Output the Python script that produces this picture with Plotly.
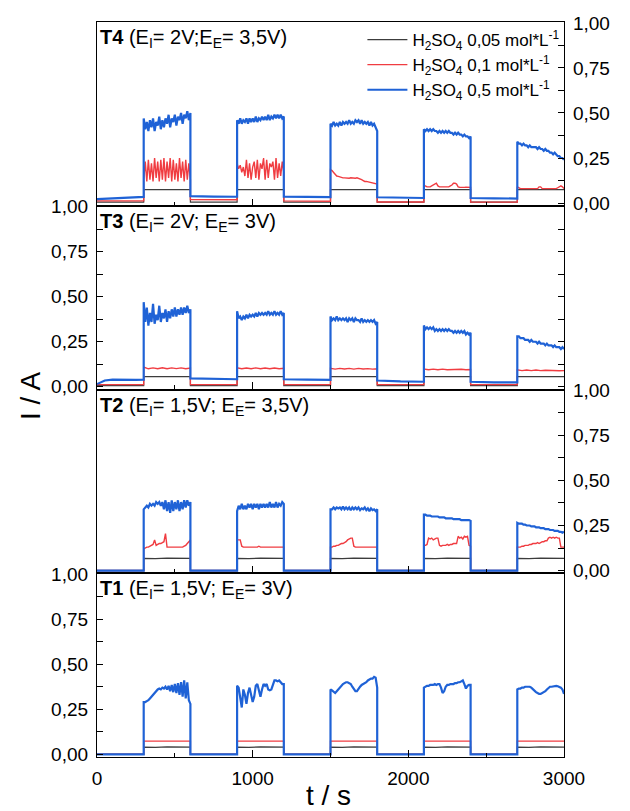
import numpy as np
import plotly.graph_objects as go
from plotly.subplots import make_subplots

# segment edges (s): off/on alternating, 10 segments
T_EDGES = [0, 300, 600, 900, 1200, 1500, 1800, 2100, 2400, 2700, 3000]
X_TICKS = [0, 1000, 2000, 3000]
Y_TICKS = [0, 0.25, 0.5, 0.75, 1.0]

SERIES_NAMES = ["H<sub>2</sub>SO<sub>4</sub> 0,05 mol*L<sup>-1</sup>",
                "H<sub>2</sub>SO<sub>4</sub> 0,1 mol*L<sup>-1</sup>",
                "H<sub>2</sub>SO<sub>4</sub> 0,5 mol*L<sup>-1</sup>"]
PANEL_LABELS = ["<b>T4</b> (E<sub>I</sub>= 2V;E<sub>E</sub>= 3,5V)",
                "<b>T3</b> (E<sub>I</sub>= 2V; E<sub>E</sub>= 3V)",
                "<b>T2</b> (E<sub>I</sub>= 1,5V; E<sub>E</sub>= 3,5V)",
                "<b>T1</b> (E<sub>I</sub>= 1,5V; E<sub>E</sub>= 3V)"]

# ---------------- T4 ----------------
T4_BLACK = [[0.005, 0.005], [0.075, 0.074, 0.076, 0.075], [0.005, 0.005], [0.075, 0.074, 0.076, 0.075],
            [0.005, 0.005], [0.075, 0.074, 0.076, 0.075], [0.005, 0.005], [0.075, 0.074, 0.076, 0.075],
            [0.005, 0.005], [0.075, 0.074, 0.076, 0.075]]
T4_RED = [
    [0.012, 0.012],
    [0.13, 0.23, 0.12, 0.24, 0.13, 0.22, 0.12, 0.25, 0.14, 0.23, 0.12, 0.24, 0.13, 0.25, 0.12, 0.23,
     0.14, 0.25, 0.12, 0.24, 0.13, 0.22, 0.12, 0.25, 0.14, 0.23, 0.12, 0.24, 0.13, 0.22, 0.13],
    [0.02, 0.018],
    [0.22, 0.19, 0.21, 0.17, 0.20, 0.15, 0.24, 0.14, 0.22, 0.13, 0.20, 0.23, 0.14, 0.24, 0.13, 0.22,
     0.19, 0.25, 0.13, 0.24, 0.14, 0.22, 0.20, 0.23, 0.13, 0.25, 0.14, 0.22, 0.15, 0.23, 0.17],
    [0.012, 0.01],
    [0.185, 0.18, 0.17, 0.16, 0.15, 0.148, 0.145, 0.14, 0.14, 0.14, 0.138, 0.14, 0.138, 0.14, 0.138, 0.14,
     0.138, 0.14, 0.138, 0.135, 0.13, 0.125, 0.12, 0.12, 0.118, 0.115, 0.112, 0.11, 0.108, 0.107, 0.105],
    [0.006, 0.006],
    [0.095, 0.095, 0.09, 0.09, 0.09, 0.095, 0.10, 0.108, 0.11, 0.095, 0.09, 0.09, 0.09, 0.09, 0.09, 0.09,
     0.09, 0.095, 0.10, 0.11, 0.11, 0.105, 0.09, 0.088, 0.087, 0.087, 0.087, 0.088, 0.087, 0.088, 0.087],
    [0.005, 0.005],
    [0.09, 0.085, 0.08, 0.08, 0.08, 0.08, 0.08, 0.08, 0.08, 0.08, 0.08, 0.08, 0.08, 0.08, 0.09, 0.09,
     0.08, 0.08, 0.08, 0.08, 0.08, 0.08, 0.08, 0.08, 0.08, 0.08, 0.085, 0.09, 0.095, 0.09, 0.08]]
T4_BLUE = [
    [0.022, 0.025, 0.03, 0.032, 0.034],
    [0.47, 0.41, 0.45, 0.40, 0.46, 0.42, 0.47, 0.40, 0.45, 0.43, 0.48, 0.41, 0.46, 0.42, 0.47, 0.44,
     0.49, 0.42, 0.47, 0.45, 0.49, 0.43, 0.48, 0.46, 0.50, 0.44, 0.49, 0.47, 0.51, 0.46, 0.50],
    [0.038, 0.036, 0.035],
    [0.46, 0.44, 0.47, 0.44, 0.46, 0.45, 0.47, 0.44, 0.47, 0.45, 0.47, 0.45, 0.48, 0.45, 0.47, 0.46,
     0.48, 0.46, 0.48, 0.46, 0.49, 0.46, 0.48, 0.47, 0.49, 0.47, 0.49, 0.47, 0.49, 0.47, 0.48],
    [0.036, 0.034, 0.033],
    [0.44, 0.43, 0.45, 0.43, 0.44, 0.43, 0.45, 0.43, 0.45, 0.44, 0.45, 0.44, 0.46, 0.44, 0.45, 0.44,
     0.46, 0.45, 0.46, 0.44, 0.46, 0.44, 0.45, 0.44, 0.45, 0.43, 0.45, 0.43, 0.44, 0.42, 0.40],
    [0.032, 0.030, 0.028],
    [0.41, 0.40, 0.41, 0.40, 0.41, 0.40, 0.41, 0.40, 0.40, 0.39, 0.40, 0.39, 0.40, 0.39, 0.40, 0.39,
     0.40, 0.39, 0.39, 0.38, 0.39, 0.38, 0.39, 0.38, 0.38, 0.37, 0.38, 0.37, 0.37, 0.36, 0.37],
    [0.028, 0.026, 0.025],
    [0.34, 0.33, 0.33, 0.32, 0.33, 0.32, 0.32, 0.31, 0.32, 0.31, 0.31, 0.31, 0.31, 0.30, 0.31, 0.30,
     0.30, 0.29, 0.30, 0.29, 0.29, 0.28, 0.28, 0.27, 0.28, 0.27, 0.26, 0.26, 0.25, 0.25, 0.24]]

# ---------------- T3 ----------------
T3_BLACK = [[0.006, 0.006], [0.057, 0.056, 0.058, 0.057], [0.006, 0.006], [0.057, 0.056, 0.058, 0.057],
            [0.006, 0.006], [0.057, 0.056, 0.058, 0.057], [0.006, 0.006], [0.057, 0.056, 0.058, 0.057],
            [0.006, 0.006], [0.057, 0.056, 0.058, 0.057]]
T3_RED = [
    [0.012, 0.012],
    [0.11, 0.10, 0.105, 0.10, 0.106, 0.10, 0.105, 0.101, 0.105, 0.10, 0.104],
    [0.012, 0.012],
    [0.105, 0.10, 0.104, 0.10, 0.105, 0.10, 0.104, 0.10, 0.104, 0.10, 0.103],
    [0.012, 0.012],
    [0.102, 0.098, 0.102, 0.099, 0.102, 0.098, 0.102, 0.099, 0.101, 0.098, 0.10],
    [0.012, 0.012],
    [0.098, 0.095, 0.098, 0.095, 0.098, 0.095, 0.097, 0.095, 0.097, 0.095, 0.096],
    [0.012, 0.012],
    [0.094, 0.09, 0.093, 0.09, 0.093, 0.09, 0.092, 0.09, 0.092, 0.089, 0.09]]
T3_BLUE = [
    [0.015, 0.035, 0.04, 0.038, 0.04, 0.038, 0.04],
    [0.47, 0.36, 0.44, 0.34, 0.41, 0.36, 0.46, 0.35, 0.40, 0.37, 0.45, 0.36, 0.41, 0.38, 0.43, 0.36,
     0.42, 0.38, 0.43, 0.39, 0.44, 0.39, 0.43, 0.40, 0.44, 0.40, 0.44, 0.41, 0.45, 0.41, 0.43],
    [0.047, 0.045, 0.042],
    [0.42, 0.38, 0.39, 0.37, 0.39, 0.38, 0.40, 0.38, 0.40, 0.39, 0.40, 0.39, 0.41, 0.39, 0.41, 0.40,
     0.41, 0.40, 0.41, 0.40, 0.42, 0.40, 0.41, 0.40, 0.42, 0.40, 0.41, 0.40, 0.42, 0.40, 0.41],
    [0.042, 0.040, 0.038],
    [0.39, 0.37, 0.38, 0.37, 0.39, 0.37, 0.38, 0.37, 0.38, 0.37, 0.38, 0.36, 0.38, 0.37, 0.38, 0.36,
     0.38, 0.37, 0.37, 0.36, 0.38, 0.36, 0.37, 0.36, 0.37, 0.36, 0.37, 0.36, 0.37, 0.35, 0.36],
    [0.035, 0.03, 0.028],
    [0.34, 0.32, 0.33, 0.32, 0.33, 0.32, 0.33, 0.31, 0.32, 0.31, 0.32, 0.31, 0.32, 0.31, 0.32, 0.31,
     0.32, 0.31, 0.31, 0.30, 0.31, 0.30, 0.31, 0.30, 0.31, 0.30, 0.31, 0.29, 0.30, 0.29, 0.30],
    [0.028, 0.025, 0.024],
    [0.28, 0.28, 0.27, 0.27, 0.27, 0.26, 0.26, 0.26, 0.25, 0.26, 0.25, 0.25, 0.25, 0.24, 0.25, 0.24,
     0.24, 0.24, 0.23, 0.24, 0.23, 0.23, 0.23, 0.22, 0.23, 0.22, 0.22, 0.22, 0.21, 0.22, 0.21]]

# ---------------- T2 ----------------
T2_BLACK = [[0.0, 0.0], [0.068, 0.066, 0.069, 0.067, 0.068], [0.0, 0.0], [0.068, 0.066, 0.069, 0.067, 0.068],
            [0.0, 0.0], [0.068, 0.066, 0.069, 0.067, 0.068], [0.0, 0.0], [0.068, 0.066, 0.069, 0.067, 0.068],
            [0.0, 0.0], [0.068, 0.066, 0.069, 0.067, 0.068]]
T2_RED = [
    [0.0, 0.0],
    [0.12, 0.125, 0.13, 0.13, 0.135, 0.14, 0.145, 0.17, 0.14, 0.145, 0.15, 0.15, 0.155, 0.16, 0.205, 0.13,
     0.13, 0.13, 0.13, 0.13, 0.13, 0.13, 0.13, 0.13, 0.13, 0.13, 0.135, 0.14, 0.15, 0.16, 0.17],
    [0.0, 0.0],
    [0.17, 0.17, 0.17, 0.135, 0.13, 0.13, 0.13, 0.13, 0.13, 0.13, 0.13, 0.13, 0.13, 0.13, 0.135, 0.13,
     0.13, 0.13, 0.13, 0.13, 0.13, 0.13, 0.13, 0.13, 0.13, 0.13, 0.13, 0.13, 0.13, 0.13, 0.13],
    [0.0, 0.0],
    [0.13, 0.13, 0.135, 0.135, 0.14, 0.14, 0.145, 0.15, 0.15, 0.155, 0.16, 0.17, 0.175, 0.18, 0.18, 0.135,
     0.13, 0.13, 0.13, 0.13, 0.13, 0.13, 0.13, 0.13, 0.13, 0.13, 0.13, 0.13, 0.13, 0.13, 0.13],
    [0.0, 0.0],
    [0.14, 0.14, 0.145, 0.18, 0.175, 0.18, 0.17, 0.175, 0.18, 0.18, 0.14, 0.135, 0.14, 0.14, 0.14, 0.145,
     0.14, 0.145, 0.145, 0.15, 0.15, 0.15, 0.19, 0.18, 0.185, 0.175, 0.19, 0.185, 0.19, 0.14, 0.135],
    [0.0, 0.0],
    [0.13, 0.13, 0.13, 0.135, 0.135, 0.14, 0.14, 0.14, 0.145, 0.145, 0.15, 0.15, 0.15, 0.155, 0.15, 0.155,
     0.16, 0.16, 0.165, 0.165, 0.18, 0.185, 0.18, 0.185, 0.18, 0.185, 0.18, 0.18, 0.13, 0.13, 0.13]]
T2_BLUE = [
    [0.0, 0.0],
    [0.34, 0.35, 0.36, 0.35, 0.37, 0.36, 0.37, 0.36, 0.38, 0.37, 0.38, 0.36, 0.38, 0.34, 0.39, 0.33,
     0.38, 0.32, 0.39, 0.33, 0.38, 0.34, 0.39, 0.33, 0.38, 0.34, 0.39, 0.35, 0.39, 0.36, 0.38],
    [0.0, 0.0],
    [0.33, 0.36, 0.34, 0.37, 0.34, 0.36, 0.34, 0.37, 0.35, 0.37, 0.34, 0.37, 0.35, 0.37, 0.34, 0.37,
     0.35, 0.37, 0.35, 0.37, 0.35, 0.38, 0.35, 0.37, 0.35, 0.38, 0.35, 0.37, 0.36, 0.38, 0.37],
    [0.0, 0.0],
    [0.34, 0.34, 0.35, 0.34, 0.35, 0.345, 0.35, 0.34, 0.355, 0.34, 0.35, 0.34, 0.35, 0.335, 0.35, 0.34,
     0.35, 0.34, 0.35, 0.335, 0.345, 0.34, 0.35, 0.335, 0.345, 0.33, 0.345, 0.335, 0.34, 0.33, 0.34],
    [0.0, 0.0],
    [0.31, 0.31, 0.305, 0.305, 0.305, 0.30, 0.30, 0.30, 0.30, 0.30, 0.295, 0.295, 0.295, 0.295, 0.29, 0.29,
     0.29, 0.29, 0.29, 0.285, 0.285, 0.285, 0.285, 0.285, 0.28, 0.28, 0.28, 0.28, 0.28, 0.28, 0.275],
    [0.0, 0.0],
    [0.265, 0.26, 0.26, 0.26, 0.255, 0.255, 0.25, 0.25, 0.25, 0.245, 0.245, 0.245, 0.24, 0.24, 0.24, 0.235,
     0.235, 0.235, 0.23, 0.23, 0.23, 0.225, 0.225, 0.225, 0.22, 0.22, 0.22, 0.215, 0.215, 0.21, 0.215]]

# ---------------- T1 ----------------
T1_BLACK = [[0.0, 0.0], [0.04, 0.038, 0.041, 0.039, 0.04], [0.0, 0.0], [0.04, 0.038, 0.041, 0.039, 0.04],
            [0.0, 0.0], [0.04, 0.038, 0.041, 0.039, 0.04], [0.0, 0.0], [0.04, 0.038, 0.041, 0.039, 0.04],
            [0.0, 0.0], [0.04, 0.038, 0.041, 0.039, 0.04]]
T1_RED = [[0.0, 0.0], [0.073, 0.072, 0.074, 0.073], [0.0, 0.0], [0.073, 0.072, 0.074, 0.073],
          [0.0, 0.0], [0.073, 0.072, 0.074, 0.073], [0.0, 0.0], [0.073, 0.072, 0.074, 0.073],
          [0.0, 0.0], [0.073, 0.072, 0.074, 0.073]]
T1_BLUE = [
    [0.0, 0.0],
    [0.29, 0.29, 0.295, 0.30, 0.31, 0.32, 0.33, 0.345, 0.355, 0.36, 0.365, 0.36, 0.37, 0.365, 0.375, 0.36,
     0.38, 0.35, 0.385, 0.345, 0.39, 0.34, 0.395, 0.33, 0.40, 0.32, 0.41, 0.31, 0.40, 0.30, 0.28],
    [0.0, 0.0],
    [0.38, 0.37, 0.30, 0.26, 0.36, 0.33, 0.28, 0.34, 0.37, 0.33, 0.29, 0.32, 0.38, 0.39, 0.35, 0.32,
     0.36, 0.39, 0.38, 0.39, 0.36, 0.355, 0.36, 0.38, 0.41, 0.41, 0.405, 0.41, 0.40, 0.39, 0.39],
    [0.0, 0.0],
    [0.36, 0.355, 0.345, 0.34, 0.35, 0.36, 0.37, 0.385, 0.39, 0.395, 0.40, 0.40, 0.395, 0.39, 0.375, 0.36,
     0.35, 0.35, 0.365, 0.375, 0.385, 0.39, 0.395, 0.40, 0.41, 0.415, 0.42, 0.42, 0.43, 0.425, 0.37],
    [0.0, 0.0],
    [0.37, 0.375, 0.38, 0.38, 0.385, 0.385, 0.385, 0.39, 0.385, 0.39, 0.39, 0.37, 0.34, 0.35, 0.375, 0.385,
     0.385, 0.39, 0.39, 0.39, 0.395, 0.395, 0.40, 0.40, 0.405, 0.41, 0.39, 0.365, 0.38, 0.385, 0.385],
    [0.0, 0.0],
    [0.36, 0.365, 0.365, 0.37, 0.37, 0.375, 0.375, 0.375, 0.375, 0.37, 0.36, 0.35, 0.345, 0.34, 0.335, 0.335,
     0.34, 0.345, 0.35, 0.36, 0.37, 0.375, 0.375, 0.378, 0.38, 0.38, 0.378, 0.375, 0.37, 0.36, 0.335]]

PANELS = [(T4_BLACK, T4_RED, T4_BLUE), (T3_BLACK, T3_RED, T3_BLUE),
          (T2_BLACK, T2_RED, T2_BLUE), (T1_BLACK, T1_RED, T1_BLUE)]
COLORS = ["#3c3c3c", "#f03c41", "#1f62d6"]
WIDTHS = [1.2, 1.4, 2.2]


def build(segments):
    xs, ys = [], []
    for i, vals in enumerate(segments):
        ts = np.linspace(T_EDGES[i], T_EDGES[i + 1], len(vals))
        xs.extend(ts.tolist())
        ys.extend(vals)
    return xs, ys


fig = make_subplots(rows=4, cols=1, shared_xaxes=True, vertical_spacing=0)
for r, series in enumerate(PANELS, start=1):
    for k, seg in enumerate(series):
        xs, ys = build(seg)
        fig.add_trace(go.Scatter(x=xs, y=ys, mode="lines", name=SERIES_NAMES[k],
                                 line=dict(color=COLORS[k], width=WIDTHS[k]),
                                 showlegend=(r == 1)), row=r, col=1)

FONT = "Liberation Sans, Arial, sans-serif"
for r in range(1, 5):
    fig.update_xaxes(range=[0, 3000], tickmode="array", tickvals=X_TICKS,
                     ticktext=[str(v) for v in X_TICKS], ticks="inside", ticklen=7,
                     tickcolor="black", tickwidth=1.3,
                     minor=dict(tickmode="array", tickvals=[500, 1500, 2500], ticks="inside",
                                ticklen=4, tickcolor="black", tickwidth=1.3),
                     showline=True, linecolor="black", linewidth=1.3, mirror=True,
                     showgrid=False, zeroline=False, showticklabels=(r == 4),
                     ticklabelstandoff=4,
                     tickfont=dict(family=FONT, size=19, color="black"), row=r, col=1)
    side = "right" if r in (1, 3) else "left"
    fig.update_yaxes(range=[-0.015, 1.005], tickmode="array", tickvals=Y_TICKS,
                     ticktext=[("%.2f" % v).replace(".", ",") for v in Y_TICKS],
                     ticks="inside", ticklen=6, tickcolor="black", tickwidth=1.3,
                     minor=dict(tickmode="array", tickvals=[0.125, 0.375, 0.625, 0.875],
                                ticks="inside", ticklen=6, tickcolor="black", tickwidth=1.3),
                     side=side, showline=True, linecolor="black", linewidth=1.3,
                     mirror=("ticks" if r == 2 else True), showgrid=False, zeroline=False,
                     ticklabelstandoff=4,
                     tickfont=dict(family=FONT, size=19, color="black"), row=r, col=1)

annotations = []
tops = [1.0, 0.75, 0.5, 0.25]
for lab, top in zip(PANEL_LABELS, tops):
    annotations.append(dict(text=lab, xref="paper", yref="paper", x=0, y=top, xanchor="left",
                            yanchor="top", xshift=1, yshift=-2, showarrow=False,
                            font=dict(family=FONT, size=20, color="black")))
annotations.append(dict(text="I / A", xref="paper", yref="paper", x=-0.1435, y=0.4925,
                        textangle=-90, showarrow=False, xanchor="center", yanchor="middle",
                        font=dict(family=FONT, size=28, color="black")))
annotations.append(dict(text="t / s", xref="paper", yref="paper", x=0.495, y=-0.053,
                        showarrow=False, xanchor="center", yanchor="middle",
                        font=dict(family=FONT, size=28, color="black")))

fig.update_layout(
    width=630, height=811, margin=dict(l=97, r=66, t=22, b=54),
    plot_bgcolor="white", paper_bgcolor="white",
    font=dict(family=FONT, color="black"),
    legend=dict(x=1.003, y=1, xanchor="right", yanchor="top", bgcolor="rgba(0,0,0,0)",
                font=dict(family=FONT, size=17, color="black"), tracegroupgap=0,
                itemwidth=40),
    annotations=annotations,
)
fig.write_html("out.html")
